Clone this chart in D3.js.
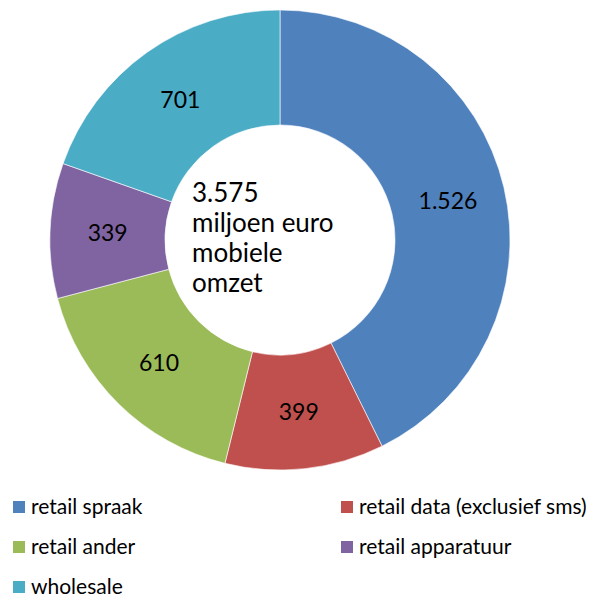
<!DOCTYPE html>
<html>
<head>
<meta charset="utf-8">
<script src="https://cdn.jsdelivr.net/npm/d3@7"></script>
<style>
  body { margin: 0; background: #fff; }
  svg { display: block; }
  text { font-family: Lato, "Open Sans", sans-serif; fill: #000; }
</style>
</head>
<body>
<svg id="chart" width="592" height="599"></svg>
<script>
// data
const categories = ["retail spraak", "retail data (exclusief sms)", "retail ander", "retail apparatuur", "wholesale"];
const values = [1526, 399, 610, 339, 701];
const valueLabels = ["1.526", "399", "610", "339", "701"];
const colors = ["#4F81BD", "#C0504D", "#9BBB59", "#8064A2", "#4BACC6"];
const centerLines = ["3.575", "miljoen euro", "mobiele", "omzet"];

const cx = 280, cy = 240;
const outerR = 230, innerR = 115;

const svg = d3.select("#chart");

const pie = d3.pie().sort(null).value(d => d);
const arc = d3.arc().innerRadius(innerR).outerRadius(outerR);

const g = svg.append("g")
  .attr("transform", "translate(" + cx + "," + cy + ")");

const slices = pie(values);

g.selectAll("path")
  .data(slices).enter()
  .append("path")
  .attr("d", arc)
  .style("fill", (d, i) => colors[i])
  .style("stroke", "#ffffff")
  .style("stroke-width", 0.6);

// value labels in the middle of the ring
g.selectAll("text.val")
  .data(slices).enter()
  .append("text")
  .attr("class", "val")
  .attr("x", d => arc.centroid(d)[0])
  .attr("y", d => arc.centroid(d)[1])
  .attr("text-anchor", "middle")
  .attr("dy", "0.36em")
  .style("font-size", "23px")
  .text((d, i) => valueLabels[i]);

// text in the hole, one line per element
svg.append("g").selectAll("text")
  .data(centerLines).enter()
  .append("text")
  .attr("x", 192)
  .attr("y", (d, i) => 202 + i * 30)
  .style("font-size", "26px")
  .text(d => d);

// legend, two columns
const legend = svg.append("g");
const item = legend.selectAll("g")
  .data(categories).enter()
  .append("g")
  .attr("transform", (d, i) => "translate(" + (i % 2 == 0 ? 13 : 341) + "," + (501 + Math.floor(i / 2) * 40) + ")");

item.append("rect")
  .attr("width", 12)
  .attr("height", 12)
  .style("fill", (d, i) => colors[i]);

item.append("text")
  .attr("x", 18)
  .attr("y", 13)
  .style("font-size", "21px")
  .text(d => d);
</script>
</body>
</html>
